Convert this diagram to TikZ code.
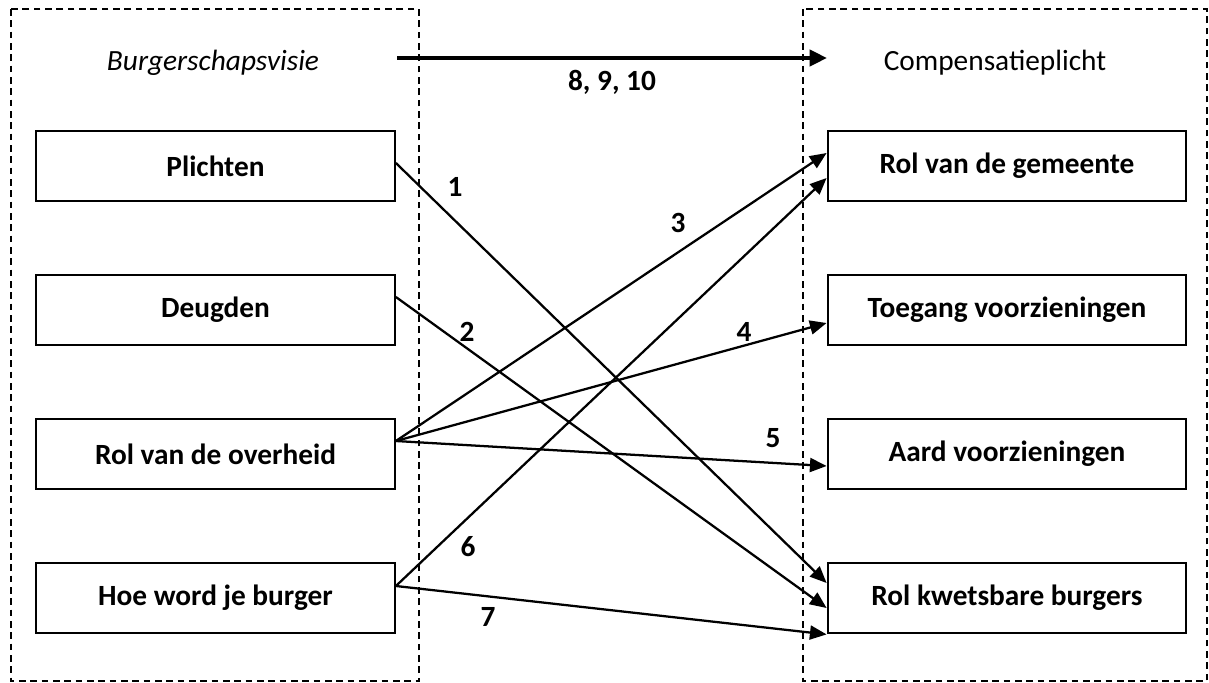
\documentclass[tikz,border=0pt]{standalone}
\usepackage{fontspec}
\setmainfont{Carlito}
\usetikzlibrary{arrows.meta,calc}

\tikzset{
  kader/.style={line width=1pt, dash pattern=on 5pt off 3.5pt},
  vak/.style={draw, line width=1.6pt, minimum width=269pt, minimum height=53pt, inner sep=0pt,
    font=\fontsize{22}{26}\selectfont\bfseries},
  pijl/.style={line width=1.7pt, -{Triangle[length=12.5pt,width=10.5pt]}},
  hoofdpijl/.style={line width=3pt, -{Triangle[length=13pt,width=12pt]}},
  nummer/.style={font=\fontsize{22}{26}\selectfont\bfseries},
  kop/.style={font=\fontsize{22}{26}\selectfont}
}

\begin{document}
\begin{tikzpicture}[x=0.75pt,y=-0.75pt]
    \useasboundingbox (0,0) rectangle (1209,682);
    % kaders
    \draw[kader] (11,9) rectangle (419,681);
    \draw[kader] (803,9) rectangle (1207,681);

    \node[kop] (visie) at (213,63) {\itshape Burgerschapsvisie};
    \node[kop] (compensatie) at (995,63) {Compensatieplicht};

    % links
    \node[vak] (plichten) at (215.5,166) {Plichten};
    \node[vak] (deugden) at (215.5,310) {Deugden};
    \node[vak] (overheid) at (215.5,454) {Rol van de overheid};
    \node[vak] (burger) at (215.5,598) {Hoe word je burger};

    % rechts
    \node[vak] (gemeente) at (1007,166) {Rol van de gemeente};
    \node[vak] (toegang) at (1007,310) {Toegang voorzieningen};
    \node[vak] (aard) at (1007,454) {Aard voorzieningen};
    \node[vak] (kwetsbaar) at (1007,598) {Rol kwetsbare burgers};

    \coordinate (start) at (397,58);
    \coordinate (eind) at (827,58);
    \draw[hoofdpijl] (start) -- (eind) node[midway, below=4pt, nummer] {8, 9, 10};

    \draw[pijl] ($(plichten.east)+(0,-3)$) -- ($(kwetsbaar.west)+(0,-15)$);
    \draw[pijl] ($(deugden.east)+(0,-13)$) -- ($(kwetsbaar.west)+(0,10)$);
    \draw[pijl] ($(overheid.east)+(0,-13)$) -- ($(gemeente.west)+(0,-13)$);
    \draw[pijl] ($(overheid.east)+(0,-13)$) -- ($(toegang.west)+(0,13)$);
    \draw[pijl] ($(overheid.east)+(0,-13)$) -- ($(aard.west)+(0,12)$);
    \draw[pijl] ($(burger.east)+(0,-12)$) -- ($(gemeente.west)+(0,12)$);
    \draw[pijl] ($(burger.east)+(0,-12)$) -- (kwetsbaar.south west);

    \node[nummer] (n1) at (455,187) {1};
    \node[nummer] (n2) at (467,332) {2};
    \node[nummer] (n3) at (678,223) {3};
    \node[nummer] (n4) at (744,332) {4};
    \node[nummer] (n5) at (773,438) {5};
    \node[nummer] (n6) at (468,547) {6};
    \node[nummer] (n7) at (488,617) {7};
\end{tikzpicture}
\end{document}
